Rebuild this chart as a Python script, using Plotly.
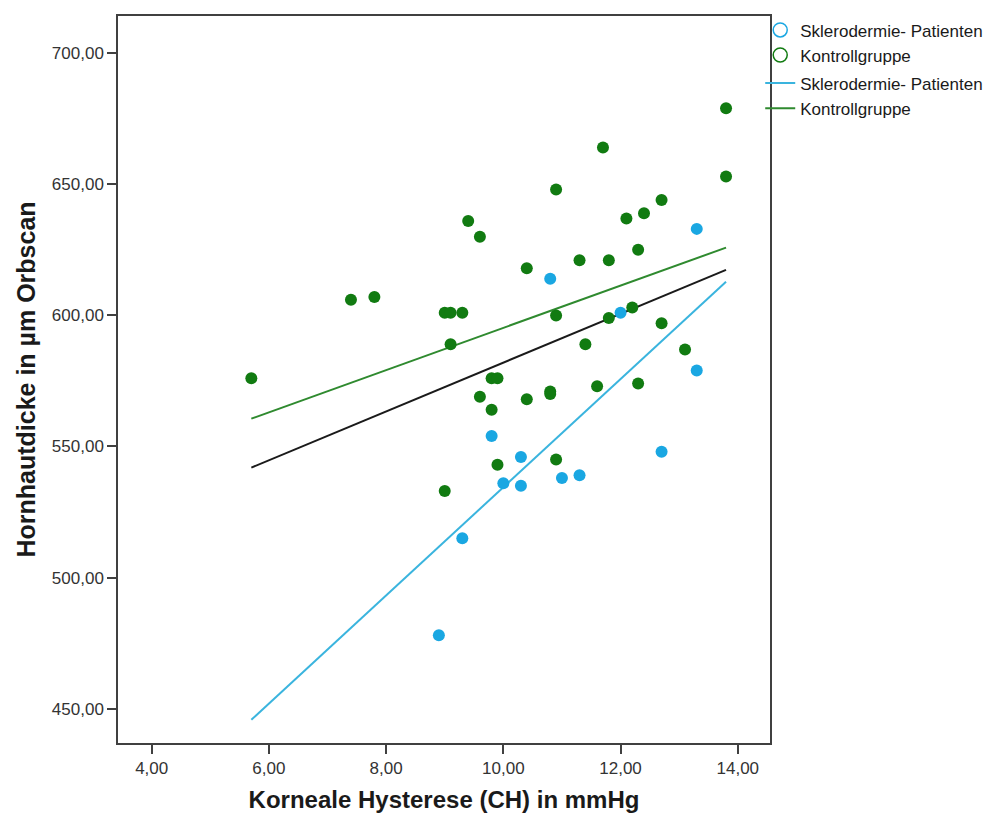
import numpy as np
import plotly.graph_objects as go

# ---- data ----
ssc_x = [8.9, 9.3, 9.8, 10.0, 10.3, 10.3, 10.8, 11.0, 11.3, 12.0, 12.7, 13.3, 13.3]
ssc_y = [478, 515, 554, 536, 535, 546, 614, 538, 539, 601, 548, 633, 579]

ctrl_x = [5.7, 7.4, 7.8, 9.0, 9.1, 9.3, 9.1, 9.8, 9.9, 9.6, 9.8, 9.9, 9.0,
          11.7, 13.8, 10.9, 12.7, 12.4, 12.1, 9.6, 12.3, 10.4, 11.3, 11.8,
          10.9, 11.8, 12.2, 12.7, 11.4, 13.1, 10.4, 10.8, 10.8, 11.6, 12.3,
          10.9, 9.4, 13.8]
ctrl_y = [576, 606, 607, 601, 601, 601, 589, 576, 576, 569, 564, 543, 533,
          664, 653, 648, 644, 639, 637, 630, 625, 618, 621, 621,
          600, 599, 603, 597, 589, 587, 568, 571, 570, 573, 574,
          545, 636, 679]

group_names = ["Sklerodermie- Patienten", "Kontrollgruppe"]
x_ticks = [4, 6, 8, 10, 12, 14]
y_ticks = [450, 500, 550, 600, 650, 700]

# ---- styles ----
BLUE = "#1aa7e2"
BLUE_LINE = "#3ab4de"
GREEN = "#117b11"
GREEN_LINE = "#2f8a2f"
BLACK = "#1a1a1a"
FONT = "Arial, Liberation Sans, sans-serif"

all_x = np.array(ssc_x + ctrl_x, dtype=float)
all_y = np.array(ssc_y + ctrl_y, dtype=float)
x_line = np.array([all_x.min(), all_x.max()])


def fit(xs, ys):
    m, b = np.polyfit(np.array(xs, float), np.array(ys, float), 1)
    return m * x_line + b


fig = go.Figure()

# total fit line (not in legend)
fig.add_trace(go.Scatter(x=x_line, y=fit(all_x, all_y), mode="lines",
                         line=dict(color=BLACK, width=2), showlegend=False,
                         hoverinfo="skip"))
# group fit lines
fig.add_trace(go.Scatter(x=x_line, y=fit(ssc_x, ssc_y), mode="lines",
                         line=dict(color=BLUE_LINE, width=2),
                         name=group_names[0], legendgroup="lines",
                         legendrank=3))
fig.add_trace(go.Scatter(x=x_line, y=fit(ctrl_x, ctrl_y), mode="lines",
                         line=dict(color=GREEN_LINE, width=2),
                         name=group_names[1], legendgroup="lines",
                         legendrank=4))

# points
fig.add_trace(go.Scatter(x=ctrl_x, y=ctrl_y, mode="markers",
                         marker=dict(color=GREEN, size=12, line=dict(width=0)),
                         showlegend=False))
fig.add_trace(go.Scatter(x=ssc_x, y=ssc_y, mode="markers",
                         marker=dict(color=BLUE, size=12, line=dict(width=0)),
                         showlegend=False))

# legend entries for markers (open circles)
fig.add_trace(go.Scatter(x=[None], y=[None], mode="markers",
                         marker=dict(symbol="circle-open", color=BLUE, size=14,
                                     line=dict(width=1.5)),
                         name=group_names[0], legendgroup="pts", legendrank=1))
fig.add_trace(go.Scatter(x=[None], y=[None], mode="markers",
                         marker=dict(symbol="circle-open", color=GREEN, size=14,
                                     line=dict(width=1.5)),
                         name=group_names[1], legendgroup="pts", legendrank=2))

axis_common = dict(
    showline=True, mirror=True, linecolor="#404040", linewidth=1.5,
    ticks="outside", ticklen=9, tickwidth=1.5, tickcolor="#404040",
    showgrid=False, zeroline=False,
    tickfont=dict(family=FONT, size=17, color="#333333"),
)

fig.update_layout(
    width=1001, height=821, autosize=False,
    margin=dict(l=118, r=231, t=15, b=76),
    paper_bgcolor="white", plot_bgcolor="white",
    separators=",.",
    font=dict(family=FONT, color="#1a1a1a"),
    xaxis=dict(range=[3.425, 14.55], tickvals=x_ticks, tickformat=".2f",
               title=dict(text="<b>Korneale Hysterese (CH) in mmHg</b>",
                          font=dict(family=FONT, size=24, color="#1a1a1a"),
                          standoff=14),
               **axis_common),
    yaxis=dict(range=[436.9, 714.2], tickvals=y_ticks, tickformat=".2f",
               title=dict(text="<b>Hornhautdicke in µm Orbscan</b>",
                          font=dict(family=FONT, size=25, color="#1a1a1a"),
                          standoff=9),
               **axis_common),
    legend=dict(x=0.985, y=1.005, xanchor="left", yanchor="top",
                font=dict(family=FONT, size=17, color="#1a1a1a"),
                bgcolor="rgba(0,0,0,0)", tracegroupgap=3,
                traceorder="grouped", itemwidth=30),
)

fig.write_html("out.html")
